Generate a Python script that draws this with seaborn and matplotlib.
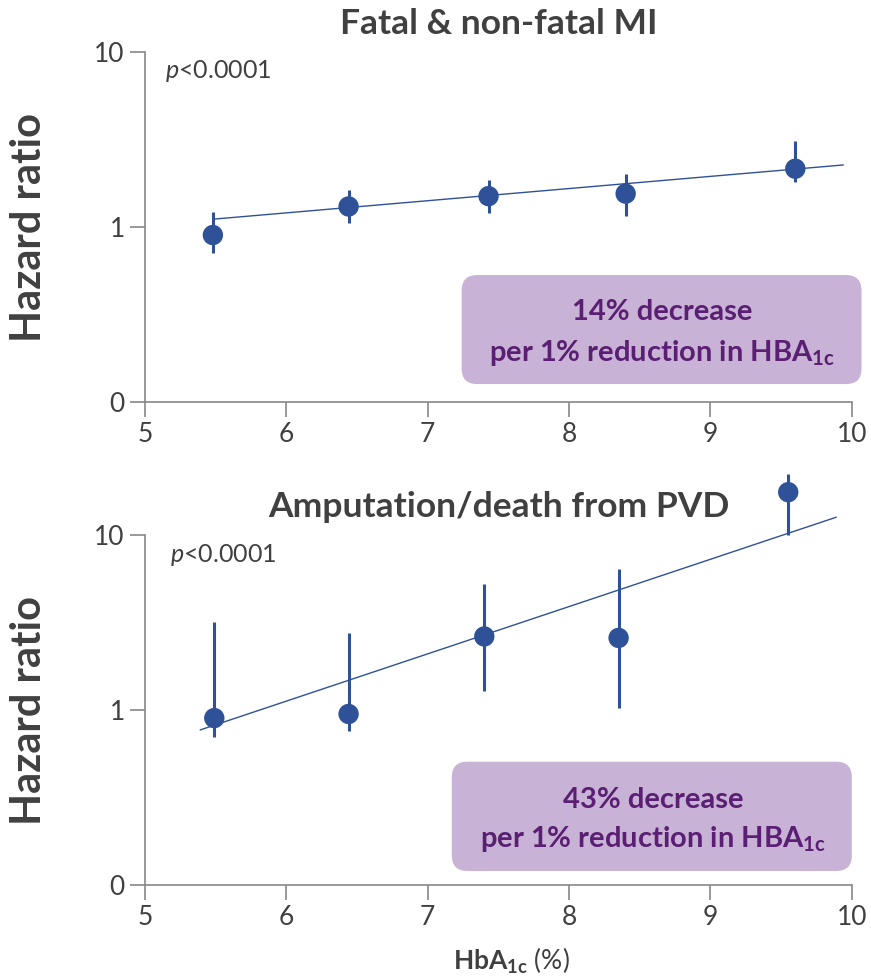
import matplotlib
matplotlib.use("Agg")
import matplotlib.pyplot as plt
import seaborn as sns
import pandas as pd
from matplotlib.patches import FancyBboxPatch

# ---- data ----
x_mi = [5.48, 6.44, 7.43, 8.40, 9.60]
hr_mi = [0.90, 1.31, 1.50, 1.55, 2.15]
lo_mi = [0.71, 1.06, 1.21, 1.16, 1.80]
hi_mi = [1.22, 1.62, 1.86, 2.00, 3.09]
fit_x_mi = [5.49, 9.94]
fit_y_mi = [1.11, 2.26]

x_pvd = [5.49, 6.44, 7.40, 8.35, 9.55]
hr_pvd = [0.90, 0.95, 2.63, 2.58, 17.5]
lo_pvd = [0.70, 0.76, 1.29, 1.03, 10.0]
hi_pvd = [3.16, 2.75, 5.24, 6.37, 22.2]
fit_x_pvd = [5.39, 9.89]
fit_y_pvd = [0.77, 12.6]

titles = ["Fatal & non-fatal MI", "Amputation/death from PVD"]
box_line1 = ["14% decrease", "43% decrease"]
box_line2 = r"per 1% reduction in HBA$_{\mathbf{1c}}$"
x_ticks = [5, 6, 7, 8, 9, 10]
y_ticks = [0.1, 1, 10]
y_ticklabels = ["0", "1", "10"]

# ---- style ----
sns.set_theme(style="white")
FONT = "Lato"
plt.rcParams["font.family"] = [FONT, "DejaVu Sans"]
plt.rcParams["mathtext.fontset"] = "custom"
plt.rcParams["mathtext.rm"] = FONT
plt.rcParams["mathtext.bf"] = FONT + ":bold"
plt.rcParams["mathtext.it"] = FONT + ":italic"

DARK = "#404040"
BLUE = "#2E5197"
SPINE = "#888888"
BOX = "#C8B2D5"
PURPLE = "#5A1F73"

fig = plt.figure(figsize=(8.71, 9.80), dpi=100)
ax_top = fig.add_axes([0.1665, 0.5895, 0.8115, 0.3577])
ax_bot = fig.add_axes([0.1665, 0.0966, 0.8115, 0.3577])

panels = [
    (ax_top, x_mi, hr_mi, lo_mi, hi_mi, fit_x_mi, fit_y_mi, (0.448, 0.052, 0.5657, 0.311), (0.731, 0.2347, 0.1187), (0.028, 0.925)),
    (ax_bot, x_pvd, hr_pvd, lo_pvd, hi_pvd, fit_x_pvd, fit_y_pvd, (0.434, 0.041, 0.566, 0.3117), (0.7185, 0.2196, 0.110), (0.035, 0.923)),
]

for i, (ax, xs, hr, lo, hi, fx, fy, box, txt, ptxt) in enumerate(panels):
    df = pd.DataFrame({"x": xs, "hr": hr})
    fit = pd.DataFrame({"x": fx, "y": fy})
    ax.set_yscale("log")
    sns.lineplot(data=fit, x="x", y="y", ax=ax, color=BLUE, lw=1.0, zorder=2,
                 clip_on=False)
    ax.vlines(xs, lo, hi, color=BLUE, lw=2.2, zorder=3, clip_on=False)
    sns.scatterplot(data=df, x="x", y="hr", ax=ax, color=BLUE, s=215,
                    edgecolor="none", zorder=4, clip_on=False)
    ax.set_xlim(5, 10)
    ax.set_ylim(0.1, 10)
    ax.set_xticks(x_ticks)
    ax.set_yticks(y_ticks)
    ax.set_yticklabels(y_ticklabels)
    ax.minorticks_off()
    for s in ["top", "right"]:
        ax.spines[s].set_visible(False)
    for s in ["left", "bottom"]:
        ax.spines[s].set_color(SPINE)
        ax.spines[s].set_linewidth(1.2)
    ax.tick_params(axis="both", which="major", direction="out", length=10.5,
                   width=1.2, color=SPINE, labelsize=19, labelcolor=DARK,
                   left=True, bottom=True, pad=4)
    ax.set_xlabel("")
    ax.set_ylabel("Hazard ratio", fontsize=30, fontweight="bold", color=DARK, va="center")
    ax.yaxis.set_label_coords(-0.164, 0.5)
    ax.set_title(titles[i], fontsize=25.5, fontweight="bold", color=DARK, pad=13)
    ax.text(ptxt[0], ptxt[1], r"$\mathit{p}$<0.0001", transform=ax.transAxes,
            fontsize=18, color=DARK, ha="left", va="baseline")
    # annotation box
    bx, by, bw, bh = box
    patch = FancyBboxPatch((bx, by), bw, bh, transform=ax.transAxes,
                           boxstyle="round,pad=0,rounding_size=0.022",
                           mutation_aspect=2.017, facecolor=BOX,
                           edgecolor="none", clip_on=False, zorder=1)
    ax.add_patch(patch)
    ax.text(txt[0], txt[1], box_line1[i], transform=ax.transAxes, ha="center",
            va="baseline", fontsize=21, fontweight="bold", color=PURPLE, zorder=5)
    ax.text(txt[0], txt[2], box_line2, transform=ax.transAxes, ha="center",
            va="baseline", fontsize=21, fontweight="bold", color=PURPLE, zorder=5)

ax_bot.set_xlabel(r"$\mathbf{HbA_{1c}}$ (%)", fontsize=19, color=DARK)
ax_bot.xaxis.set_label_coords(0.518, -0.2416)
ax_bot.xaxis.label.set_va("baseline")

fig.savefig("out.png", dpi=100)
